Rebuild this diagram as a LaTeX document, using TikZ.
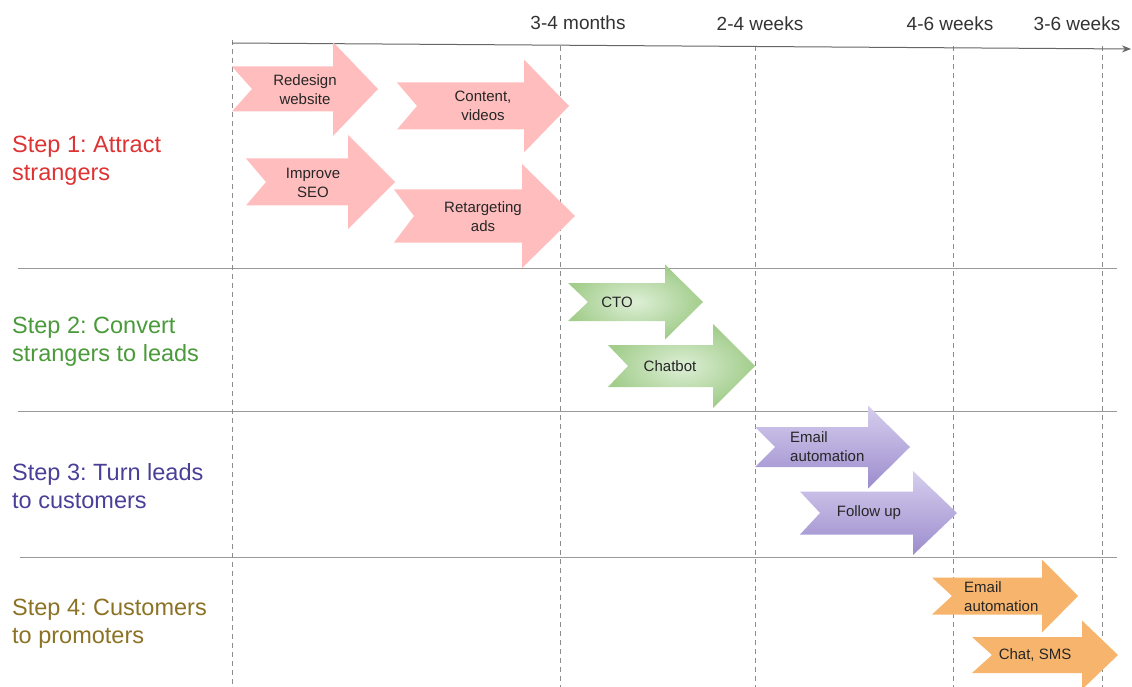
\documentclass[tikz,border=0pt]{standalone}
\usepackage{fontspec}
\setmainfont{Liberation Sans}
\usepackage{tikz}
\usetikzlibrary{arrows.meta}
\frenchspacing
\definecolor{stepred}{HTML}{DD3333}
\definecolor{stepgreen}{HTML}{4A9A3A}
\definecolor{steppurple}{HTML}{4A3F98}
\definecolor{stepolive}{HTML}{8B7225}
\definecolor{taskred}{HTML}{FFBDBD}
\definecolor{taskgreenin}{HTML}{DDEFD6}
\definecolor{taskgreenout}{HTML}{A3CD8C}
\definecolor{taskpurpletop}{HTML}{D6CEEE}
\definecolor{taskpurplebot}{HTML}{9C8CCD}
\definecolor{taskorange}{HTML}{F6B46C}
\tikzstyle{steplabel} = [anchor=west, align=left, inner sep=0pt, font=\fontsize{23.5}{28}\selectfont]
\tikzstyle{timelabel} = [inner sep=0pt, text=black!80, font=\fontsize{19}{22}\selectfont]
\tikzstyle{tasktext} = [inner sep=0pt, align=center, text=black!85, font=\fontsize{15}{19}\selectfont]
\tikzstyle{gridline} = [black!45, dash pattern=on 5pt off 4pt]
\tikzstyle{rowline} = [black!40, line width=1pt]
\tikzstyle{axis} = [black!60, line width=1pt, -{Stealth[length=9pt, width=7pt]}]
\tikzstyle{redtask} = [fill=taskred]
\tikzstyle{greentask} = [inner color=taskgreenin, outer color=taskgreenout]
\tikzstyle{purpletask} = [top color=taskpurpletop, bottom color=taskpurplebot]
\tikzstyle{orangetask} = [fill=taskorange]
% notched arrow: style, left, head base, tip, centre y, body half height, head half height
\newcommand{\taskarrow}[7]{%
  \path[#1] (#2,#5-#6) -- (#3,#5-#6) -- (#3,#5-#7) -- (#4,#5) -- (#3,#5+#7)
    -- (#3,#5+#6) -- (#2,#5+#6) -- (#2+20,#5) -- cycle;}

\begin{document}
\begin{tikzpicture}[x=1pt, y=-1pt]
    \useasboundingbox (0,0) rectangle (1132,687);

    % rows
    \draw [rowline] (18,268) -- (1117,268);
    \draw [rowline] (18,411) -- (1117,411);
    \draw [rowline] (20,557) -- (1117,557);

    % time columns
    \draw [gridline] (232,40) -- (232,687);
    \foreach \x in {560, 755, 953, 1102}
        \draw [gridline] (\x,46) -- (\x,687);

    \coordinate (axisstart) at (232,43);
    \coordinate (axisend) at (1131,49);
    \draw [axis] (axisstart) -- (axisend);

    \node (t1) [timelabel] at (578,23) {3-4 months};
    \node (t2) [timelabel] at (760,24) {2-4 weeks};
    \node (t3) [timelabel] at (950,24) {4-6 weeks};
    \node (t4) [timelabel] at (1077,24) {3-6 weeks};

    \node (s1) [steplabel, text=stepred] at (12,161) {Step 1: Attract\\strangers};
    \node (s2) [steplabel, text=stepgreen] at (12,342) {Step 2: Convert\\strangers to leads};
    \node (s3) [steplabel, text=steppurple] at (12,486) {Step 3: Turn leads\\to customers};
    \node (s4) [steplabel, text=stepolive] at (12,624) {Step 4: Customers\\to promoters};

    % step 1
    \taskarrow{redtask}{232}{333}{378}{89}{22.5}{47}
    \taskarrow{redtask}{397}{524}{569}{106}{23.5}{46.5}
    \taskarrow{redtask}{246}{348}{395}{182}{23.5}{47}
    \taskarrow{redtask}{394}{522}{575}{216}{26.5}{52}
    \node (redesign) [tasktext] at (305,90) {Redesign\\website};
    \node (content) [tasktext] at (483,106) {Content,\\videos};
    \node (seo) [tasktext] at (313,183) {Improve\\SEO};
    \node (ads) [tasktext] at (483,217) {Retargeting\\ads};

    % step 2
    \taskarrow{greentask}{568}{665}{703}{302}{19}{37.5}
    \taskarrow{greentask}{608}{713}{755}{366}{21}{42}
    \node (cto) [tasktext] at (617,302) {CTO};
    \node (chatbot) [tasktext] at (670,366) {Chatbot};

    % step 3
    \taskarrow{purpletask}{755}{868}{910}{447}{20}{41.5}
    \taskarrow{purpletask}{800}{913}{957}{513}{21.5}{42}
    \node (emaila) [tasktext, align=left, anchor=west] at (790,447) {Email\\automation};
    \node (followup) [tasktext] at (869,513) {Follow up};

    % step 4
    \taskarrow{orangetask}{932}{1042}{1078}{596}{18.5}{36.5}
    \taskarrow{orangetask}{972}{1082}{1118}{655}{18}{34.5}
    \node (emailb) [tasktext, align=left, anchor=west] at (964,597) {Email\\automation};
    \node (chatsms) [tasktext] at (1035,655) {Chat, SMS};
\end{tikzpicture}
\end{document}
